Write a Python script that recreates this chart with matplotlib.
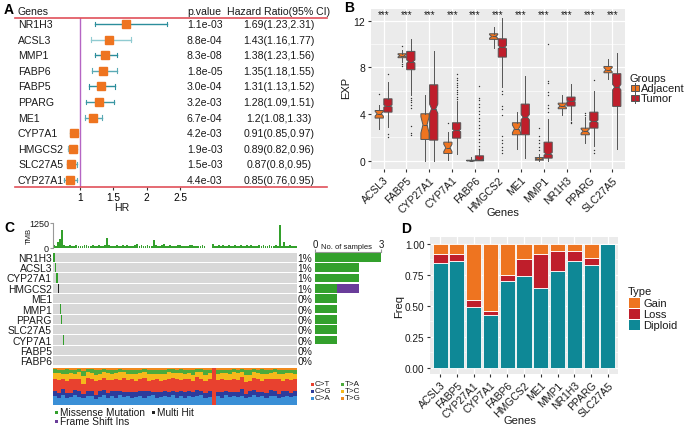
import numpy as np
import matplotlib.pyplot as plt
from matplotlib.patches import Rectangle
from matplotlib.lines import Line2D

plt.rcParams['font.family'] = ['Liberation Sans', 'DejaVu Sans']
plt.rcParams['font.size'] = 7

# ---------------- data ----------------
# A: univariate cox
cox_genes = ['NR1H3', 'ACSL3', 'MMP1', 'FABP6', 'FABP5', 'PPARG', 'ME1',
             'CYP7A1', 'HMGCS2', 'SLC27A5', 'CYP27A1']
cox_pval = ['1.1e-03', '8.8e-04', '8.3e-08', '1.8e-05', '3.0e-04', '3.2e-03',
            '6.7e-04', '4.2e-03', '1.9e-03', '1.5e-03', '4.4e-03']
cox_hr = [1.69, 1.43, 1.38, 1.35, 1.31, 1.28, 1.2, 0.91, 0.89, 0.87, 0.85]
cox_lo = [1.23, 1.16, 1.23, 1.18, 1.13, 1.09, 1.08, 0.85, 0.82, 0.8, 0.76]
cox_hi = [2.31, 1.77, 1.56, 1.55, 1.52, 1.51, 1.33, 0.97, 0.96, 0.95, 0.95]

# B: expression boxes (whislo, q1, med, q3, whishi)
expr_genes = ['ACSL3', 'FABP5', 'CYP27A1', 'CYP7A1', 'FABP6', 'HMGCS2',
              'ME1', 'MMP1', 'NR1H3', 'PPARG', 'SLC27A5']
adj_box = [(2.74, 3.66, 4.03, 4.31, 4.8), (8.5, 8.83, 9.0, 9.17, 9.5),
           (0.0, 1.83, 3.08, 4.03, 5.6), (0.1, 0.63, 1.11, 1.6, 2.46),
           (0.0, 0.0, 0.02, 0.05, 0.3), (9.7, 10.4, 10.65, 10.88, 11.5),
           (0.97, 2.23, 2.74, 3.26, 4.17), (0.0, 0.06, 0.15, 0.28, 0.6),
           (3.94, 4.46, 4.7, 4.94, 5.66), (1.54, 2.23, 2.54, 2.8, 3.74),
           (7.03, 7.54, 7.8, 8.08, 8.68)]
adj_fliers = [[5.7], [9.8, 8.1, 8.3], [], [3.2], [], [], [],
              [0.9, 1.2, 1.5, 1.8, 2.1, 2.8], [], [3.9, 4.1], []]
tum_box = [(2.89, 4.17, 4.69, 5.31, 6.74), (5.6, 7.8, 8.5, 9.37, 10.4),
           (0.0, 1.77, 4.46, 6.51, 9.37), (0.6, 1.94, 2.6, 3.26, 5.1),
           (0.0, 0.0, 0.1, 0.43, 0.9), (6.3, 8.88, 9.74, 10.45, 12.25),
           (0.26, 2.23, 3.74, 4.86, 7.26), (0.0, 0.23, 0.6, 1.6, 3.6),
           (3.46, 4.69, 5.11, 5.46, 6.6), (1.3, 2.8, 3.37, 4.17, 6.0),
           (1.03, 4.66, 6.31, 7.46, 9.25)]
tum_fliers = [[7.43, 2.3, 2.0], [5.4, 5.2, 5.0, 4.8, 4.5, 3.0, 2.4, 2.2], [],
              [5.3, 5.5, 5.7, 5.9, 6.1, 6.3, 6.5, 6.7, 6.9, 7.1, 7.4],
              [1.0, 1.3, 1.6, 1.9, 2.2, 2.5, 2.8, 3.1, 3.4, 3.7, 4.0, 4.3, 4.6,
               4.9, 5.2, 5.4, 6.4],
              [6.0, 5.7, 4.7, 4.4, 3.9, 2.1, 1.8, 1.5, 1.2, 0.9, 0.7], [],
              [4.2, 4.5, 4.8, 5.6, 5.9, 6.7, 6.8, 10.0], [3.3, 3.2],
              [6.9, 0.9, 0.7], []]
n_adj, n_tum = 25, 370

# C: mutations
mut_genes = ['NR1H3', 'ACSL3', 'CYP27A1', 'HMGCS2', 'ME1', 'MMP1', 'PPARG',
             'SLC27A5', 'CYP7A1', 'FABP5', 'FABP6']
mut_pct = ['1%', '1%', '1%', '1%', '0%', '0%', '0%', '0%', '0%', '0%', '0%']
missense_n = [3, 2, 2, 1, 1, 1, 1, 1, 1, 0, 0]
frameshift_n = [0, 0, 0, 1, 0, 0, 0, 0, 0, 0, 0]
n_samples = 364
wf_gene = ['NR1H3', 'NR1H3', 'NR1H3', 'ACSL3', 'ACSL3', 'CYP27A1', 'CYP27A1',
           'HMGCS2', 'ME1', 'MMP1', 'PPARG', 'SLC27A5', 'CYP7A1']
wf_sample = [0, 1, 2, 3, 4, 5, 6, 8, 10, 11, 12, 13, 15]
wf_class = ['Missense', 'Missense', 'Missense', 'Missense', 'Missense',
            'Missense', 'Missense', 'Multi_Hit', 'Missense', 'Missense',
            'Missense', 'Missense', 'Missense']

tmb = [150, 110, 300, 450, 900, 160, 120, 95, 130, 100,
       115, 140, 105, 125, 95, 135, 150, 110, 90, 130,
       105, 125, 140, 95, 115, 135, 500, 130, 105, 90,
       120, 145, 110, 95, 130, 105, 140, 90, 120, 115,
       140, 200, 105, 130, 95, 115, 135, 120, 90, 400,
       130, 105, 115, 145, 200, 95, 120, 135, 105, 115,
       90, 130, 140, 105, 120, 95, 115, 135, 130, 105,
       90, 120, 115, 140, 105, 20, 0, 10, 200, 95,
       115, 130, 105, 135, 95, 120, 145, 105, 90, 130,
       105, 120, 140, 95, 115, 135, 105, 130, 90, 120,
       115, 135, 95, 130, 105, 120, 140, 90, 115, 130,
       105, 1150, 120, 300, 95, 115, 135, 90, 105, 120]

# Ti/Tv fractions (percent) per sample bin
titv_ca = [24, 20, 26, 18, 22, 27, 21, 19, 25, 23, 17, 22, 28, 20, 24, 19, 26, 21, 23, 18,
           22, 25, 20, 24, 27, 19, 21, 23, 22, 26, 20, 24, 18, 25, 21, 23, 27, 20, 22, 0,
           24, 19, 26, 21, 23, 20, 25, 18, 22, 27, 21, 24, 19, 23, 26, 20, 22, 25, 21, 23]
titv_cg = [15, 12, 16, 14, 10, 13, 17, 12, 14, 15, 11, 16, 13, 12, 15, 18, 12, 14, 13, 16,
           14, 12, 17, 13, 11, 15, 14, 16, 12, 13, 15, 13, 16, 12, 14, 17, 11, 13, 15, 0,
           12, 16, 13, 15, 11, 14, 17, 12, 16, 13, 15, 12, 14, 16, 13, 11, 15, 14, 12, 16]
titv_ct = [31, 36, 28, 34, 38, 30, 33, 27, 35, 32, 37, 29, 33, 36, 28, 34, 30, 38, 31, 35,
           30, 33, 36, 29, 32, 37, 31, 28, 35, 33, 34, 30, 36, 32, 29, 35, 33, 31, 34, 100,
           31, 36, 29, 33, 37, 30, 34, 32, 28, 35, 33, 30, 36, 31, 34, 38, 29, 33, 35, 31]
titv_tc = [17, 19, 15, 18, 16, 14, 18, 20, 15, 17, 16, 18, 14, 19, 17, 15, 20, 16, 18, 14,
           18, 16, 15, 19, 17, 14, 18, 16, 20, 15, 17, 19, 15, 18, 16, 14, 19, 17, 15, 0,
           18, 15, 19, 16, 17, 20, 14, 18, 16, 15, 17, 19, 16, 15, 18, 14, 17, 16, 19, 15]
titv_ta = [9, 8, 10, 12, 9, 11, 7, 15, 8, 9, 13, 10, 8, 7, 11, 9, 8, 6, 10, 12,
           11, 9, 8, 10, 13, 10, 11, 12, 7, 9, 8, 10, 9, 8, 14, 7, 6, 13, 9, 0,
           10, 9, 8, 11, 9, 7, 6, 14, 13, 8, 9, 11, 10, 8, 7, 12, 11, 9, 8, 10]
titv_tg = [4, 5, 5, 4, 5, 5, 4, 7, 3, 4, 6, 5, 4, 6, 5, 5, 4, 6, 5, 5,
           5, 5, 4, 5, 5, 5, 5, 5, 4, 4, 6, 4, 6, 5, 6, 4, 4, 6, 5, 0,
           5, 5, 5, 5, 3, 5, 4, 6, 5, 4, 5, 4, 5, 5, 4, 5, 6, 5, 5, 5]

# D: copy number
cnv_diploid = [0.85, 0.86, 0.49, 0.43, 0.70, 0.745, 0.645, 0.785, 0.865, 0.83, 1.00]
cnv_loss = [0.07, 0.06, 0.06, 0.03, 0.05, 0.13, 0.275, 0.16, 0.08, 0.06, 0.0]
cnv_gain = [0.08, 0.08, 0.45, 0.54, 0.25, 0.125, 0.08, 0.055, 0.055, 0.11, 0.0]

# ---------------- figure ----------------
W, H = 685, 427
fig = plt.figure(figsize=(6.85, 4.27), dpi=100)


def rect(x0, y0, x1, y1):
    return [x0 / W, 1 - y1 / H, (x1 - x0) / W, (y1 - y0) / H]


def ftext(x, y, s, **kw):
    fig.text(x / W, 1 - y / H, s, **kw)


def fbox(x0, y0, x1, y1, **kw):
    fig.patches.append(Rectangle((x0 / W, 1 - y1 / H), (x1 - x0) / W, (y1 - y0) / H,
                                 transform=fig.transFigure, **kw))


orange = '#EE7420'
red = '#BF1E2B'
teal = '#0E8896'
txt = '#1a1a1a'
fsA = 7.6

ftext(4, 10, 'A', fontsize=10, fontweight='bold', va='center')
ftext(344, 8, 'B', fontsize=10, fontweight='bold', va='center')
ftext(4, 228, 'C', fontsize=10, fontweight='bold', va='center')
ftext(401, 229, 'D', fontsize=10, fontweight='bold', va='center')

# ---------------- A: forest ----------------
axA = fig.add_axes(rect(15, 19, 327, 188))
nA = len(cox_genes)
ys = np.arange(nA, 0, -1)
axA.set_xlim(0.0255, 4.703)
axA.set_ylim(0.55, nA + 0.38)
for sp in axA.spines.values():
    sp.set_visible(False)
axA.axvline(1, color='#B565C4', lw=1)
axA.axhline(nA + 0.38, color='#E0505A', lw=1.2, clip_on=False)
axA.axhline(0.55, color='#E0505A', lw=1.2, clip_on=False)
ci_cols = ['#2C8E9C', '#90CBD1', '#2C8E9C', '#5AAAB5', '#2C8E9C', '#3B97A4',
           '#5AAAB5', '#7FC1C8', '#7FC1C8', '#5AAAB5', '#5AAAB5']
for y, hr, lo, hi, c in zip(ys, cox_hr, cox_lo, cox_hi, ci_cols):
    axA.plot([lo, hi], [y, y], color=c, lw=1)
    axA.plot([lo, lo], [y - 0.15, y + 0.15], color=c, lw=0.8)
    axA.plot([hi, hi], [y - 0.15, y + 0.15], color=c, lw=0.8)
axA.plot(cox_hr, ys, 's', color=orange, ms=6, mec=orange)
trA = axA.get_yaxis_transform()
for y, g, p, hr, lo, hi in zip(ys, cox_genes, cox_pval, cox_hr, cox_lo, cox_hi):
    axA.text(0.0096, y, g, transform=trA, va='center', ha='left', fontsize=fsA, color=txt)
    axA.text(0.551, y, p, transform=trA, va='center', ha='left', fontsize=fsA, color=txt)
    axA.text(0.846, y, f'{hr}({lo},{hi})', transform=trA, va='center', ha='center',
             fontsize=fsA, color=txt)
axA.set_yticks([])
axA.set_xticks([1, 1.5, 2, 2.5])
axA.set_xticklabels(['1', '1.5', '2', '2.5'])
axA.tick_params(axis='x', length=2.5, pad=1, labelsize=7.3, color='#333333')
ftext(18, 12, 'Genes', fontsize=fsA, va='center', color=txt)
ftext(187, 12, 'p.value', fontsize=fsA, va='center', color=txt)
ftext(227, 12, 'Hazard Ratio(95% CI)', fontsize=fsA, va='center', color=txt)
ftext(122, 208, 'HR', fontsize=fsA, va='center', ha='center', color=txt)

# ---------------- B: boxplots ----------------
axB = fig.add_axes(rect(371, 10, 625, 170))
axB.set_facecolor('#EBEBEB')
for sp in axB.spines.values():
    sp.set_visible(False)
pos = np.arange(1, len(expr_genes) + 1)


def make_stats(boxes, fliers, n):
    out = []
    for (wl, q1, med, q3, wh), fl in zip(boxes, fliers):
        ci = 1.58 * (q3 - q1) / np.sqrt(n)
        out.append(dict(whislo=wl, q1=q1, med=med, q3=q3, whishi=wh,
                        fliers=fl, cilo=med - ci, cihi=med + ci))
    return out


for stats, off, col in [(make_stats(adj_box, adj_fliers, n_adj), -0.19, orange),
                        (make_stats(tum_box, tum_fliers, n_tum), 0.19, red)]:
    axB.bxp(stats, positions=pos + off, widths=0.36, shownotches=True,
            patch_artist=True, manage_ticks=False,
            boxprops=dict(facecolor=col, edgecolor='#555555', lw=0.7),
            medianprops=dict(color='#555555', lw=0.7),
            whiskerprops=dict(color='#555555', lw=0.7),
            capprops=dict(lw=0),
            flierprops=dict(marker='o', ms=1.0, mfc='#333333', mew=0))
for x in pos:
    axB.text(x, 12.6, '***', ha='center', va='center', fontsize=7, color=txt)
axB.set_xlim(0.45, 11.55)
axB.set_ylim(-0.7, 13.0)
axB.set_yticks([0, 4, 8, 12])
axB.set_yticks([2, 6, 10], minor=True)
axB.set_xticks(pos)
axB.set_xticklabels(expr_genes, rotation=45, ha='right', rotation_mode='anchor')
axB.grid(which='major', color='white', lw=0.9)
axB.grid(which='minor', axis='y', color='white', lw=0.45)
axB.set_axisbelow(True)
axB.tick_params(which='major', length=2.5, color='#333333', labelsize=7.5,
                labelcolor=txt, pad=1.5)
axB.tick_params(which='minor', length=0)
ftext(346, 88, 'EXP', rotation=90, fontsize=8, ha='center', va='center', color=txt)
ftext(503, 213, 'Genes', fontsize=8, ha='center', va='center', color=txt)
ftext(630, 79, 'Groups', fontsize=8, va='center', color=txt)
for yy, col, lab in [(89, orange, 'Adjacent'), (99, red, 'Tumor')]:
    fig.lines.append(Line2D([635 / W, 635 / W], [1 - (yy - 5) / H, 1 - (yy + 5) / H],
                            transform=fig.transFigure, color='#555555', lw=0.7))
    fbox(631, yy - 3, 639, yy + 3, facecolor=col, edgecolor='#555555', lw=0.7)
    ftext(641, yy, lab, fontsize=8, va='center', color=txt)

# ---------------- C: oncoplot ----------------
# TMB
axT = fig.add_axes(rect(53, 224, 297, 249))
axT.bar(np.arange(len(tmb)) + 0.5, tmb, width=0.9, color='#33A02C', lw=0)
axT.set_xlim(0, len(tmb))
axT.set_ylim(0, 1250)
for k in ['top', 'right', 'bottom']:
    axT.spines[k].set_visible(False)
axT.spines['left'].set_color('#999999')
axT.spines['left'].set_linewidth(0.8)
axT.set_xticks([])
axT.set_yticks([0, 1250])
axT.tick_params(axis='y', length=2, pad=1, labelsize=6.5, color='#999999', labelcolor=txt)
ftext(29, 236, 'TMB', rotation=90, fontsize=5.5, ha='center', va='center', color=txt)

# waterfall grid
axO = fig.add_axes(rect(53, 253, 297, 367))
nG = len(mut_genes)
axO.set_xlim(0, n_samples)
axO.set_ylim(nG, 0)
axO.axis('off')
row_of = {g: i for i, g in enumerate(mut_genes)}
class_col = {'Missense': '#33A02C', 'Multi_Hit': '#222222', 'Frame_Shift_Ins': '#6A3D9A'}
for i in range(nG):
    axO.add_patch(Rectangle((0, i + 0.05), n_samples, 0.9, facecolor='#D8D8D8', lw=0))
for g, s, c in zip(wf_gene, wf_sample, wf_class):
    axO.add_patch(Rectangle((s, row_of[g] + 0.05), 1, 0.9, facecolor=class_col[c], lw=0))
for i, g in enumerate(mut_genes):
    axO.text(-1.5, i + 0.55, g, ha='right', va='center', fontsize=7.4, color=txt)
    axO.text(n_samples + 1, i + 0.55, mut_pct[i], ha='left', va='center',
             fontsize=7.4, color=txt)

# right bar: number of samples
axR = fig.add_axes(rect(315, 253, 381, 367))
yb = np.arange(nG) + 0.5
axR.barh(yb, missense_n, height=0.85, color='#33A02C', lw=0)
axR.barh(yb, frameshift_n, left=missense_n, height=0.85, color='#6A3D9A', lw=0)
axR.set_xlim(0, 3)
axR.set_ylim(nG, 0)
for k in ['bottom', 'left', 'right']:
    axR.spines[k].set_visible(False)
axR.spines['top'].set_color('#999999')
axR.spines['top'].set_linewidth(0.8)
axR.xaxis.tick_top()
axR.set_xticks([0, 3])
axR.set_yticks([])
axR.tick_params(axis='x', length=2, pad=0.5, labelsize=7, color='#999999', labelcolor=txt)
axR.text(1.45, 1.02, 'No. of samples', transform=axR.get_xaxis_transform(),
         ha='center', va='bottom', fontsize=5.5, color=txt)

# Ti/Tv
axV = fig.add_axes(rect(53, 369, 297, 406))
titv_cls = ['C>A', 'C>G', 'C>T', 'T>C', 'T>A', 'T>G']
titv_cols = {'C>A': '#3A8FD6', 'C>G': '#2D3C9C', 'C>T': '#E8412F',
             'T>A': '#4CAA3C', 'T>C': '#F5B91B', 'T>G': '#F08A1E'}
titv = np.array([titv_ca, titv_cg, titv_ct, titv_tc, titv_ta, titv_tg], float)
titv = titv / titv.sum(axis=0)
xv = np.arange(titv.shape[1]) + 0.5
bottom = np.zeros(titv.shape[1])
for k, cls in enumerate(titv_cls):
    axV.bar(xv, titv[k], bottom=bottom, width=1.0, color=titv_cols[cls], lw=0)
    bottom += titv[k]
axV.set_xlim(0, titv.shape[1])
axV.set_ylim(0, 1)
axV.axis('off')

for (lab, xx, yy) in [('C>T', 312, 385), ('C>G', 312, 392), ('C>A', 312, 399),
                      ('T>A', 342, 385), ('T>C', 342, 392), ('T>G', 342, 399)]:
    fbox(xx - 1.5, yy - 1.5, xx + 1.5, yy + 1.5, facecolor=titv_cols[lab], lw=0)
    ftext(xx + 3, yy, lab, fontsize=5.8, va='center', color=txt)
for (lab, xx, yy, c) in [('Missense Mutation', 56, 413, '#33A02C'),
                         ('Multi Hit', 153, 413, '#222222'),
                         ('Frame Shift Ins', 56, 422, '#6A3D9A')]:
    fbox(xx - 1.5, yy - 1.5, xx + 1.5, yy + 1.5, facecolor=c, lw=0)
    ftext(xx + 4, yy, lab, fontsize=7.3, va='center', color=txt)

# ---------------- D: CNV stacked ----------------
axD = fig.add_axes(rect(430, 238, 618, 375))
axD.set_facecolor('#EBEBEB')
for sp in axD.spines.values():
    sp.set_visible(False)
xd = np.arange(1, len(expr_genes) + 1)
dip = np.array(cnv_diploid)
loss = np.array(cnv_loss)
axD.bar(xd, dip, width=0.9, color=teal, edgecolor='white', lw=0.6)
axD.bar(xd, loss, bottom=dip, width=0.9, color=red, edgecolor='white', lw=0.6)
axD.bar(xd, cnv_gain, bottom=dip + loss, width=0.9, color=orange, edgecolor='white', lw=0.6)
axD.set_xlim(0.4, 11.6)
axD.set_ylim(-0.05, 1.056)
axD.set_yticks([0, 0.25, 0.5, 0.75, 1.0])
axD.set_yticklabels(['0.00', '0.25', '0.50', '0.75', '1.00'])
axD.set_yticks([0.125, 0.375, 0.625, 0.875], minor=True)
axD.set_xticks(xd)
axD.set_xticklabels(expr_genes, rotation=45, ha='right', rotation_mode='anchor')
axD.grid(which='major', color='white', lw=0.9)
axD.grid(which='minor', axis='y', color='white', lw=0.45)
axD.set_axisbelow(True)
axD.tick_params(axis='y', which='major', length=2.5, color='#333333', labelsize=7.2,
                labelcolor=txt, pad=1.5)
axD.tick_params(axis='x', which='major', length=2.5, color='#333333', labelsize=7.5,
                labelcolor=txt, pad=1.5)
axD.tick_params(which='minor', length=0)
ftext(399, 307, 'Freq', rotation=90, fontsize=8, ha='center', va='center', color=txt)
ftext(520, 421, 'Genes', fontsize=8, ha='center', va='center', color=txt)
ftext(628, 292, 'Type', fontsize=8, va='center', color=txt)
for yy, col, lab in [(304, orange, 'Gain'), (315, red, 'Loss'), (326, teal, 'Diploid')]:
    fbox(629, yy - 5, 640, yy + 5, facecolor=col, lw=0)
    ftext(643, yy, lab, fontsize=8, va='center', color=txt)

fig.savefig('out.png', dpi=100)
